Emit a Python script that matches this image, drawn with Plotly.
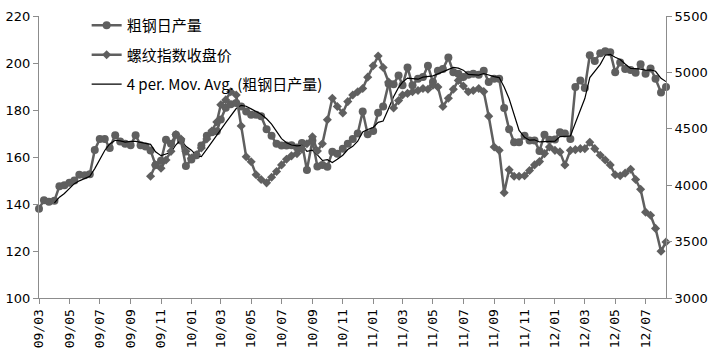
import plotly.graph_objects as go
import pandas as pd

# dekad dates (1st, 11th, 21st of each month) from 2009-03 to 2012-08
dates = [f"{2009 + (2 + k // 3) // 12}-{(2 + k // 3) % 12 + 1:02d}-{[1, 11, 21][k % 3]:02d}" for k in range(125)]

production = [
    138, 141.6, 141, 141.4, 147.6, 148, 149, 150, 152.4, 152.2,
    152.7, 163, 167.7, 167.7, 163.8, 169.3, 166.6, 165.6, 165, 169.3,
    165, 164.5, 162.8, 156.6, 158.4, 167.3, 165.6, 169.5, 167, 156.2,
    158.9, 160.7, 164.9, 169, 170.5, 171, 176, 181, 182.5, 183,
    181.5, 179.4, 178, 178, 177.3, 171.8, 169, 165.6, 164.9, 164.9,
    165, 164, 166, 154.5, 167, 156, 156.6, 155.9, 162.2, 161.4,
    163.5, 165.6, 167.7, 170, 179.4, 169.7, 171.1, 178.8, 181.5, 191.2,
    191, 194.7, 190.5, 198.1, 190.5, 193.3, 194, 198.8, 191.9, 196.7,
    197.4, 202.3, 196.1, 195.4, 194, 195, 195.4, 195, 196.7, 191.9,
    193.3, 193.3, 180.8, 171.8, 166.3, 166.3, 169, 167, 167, 162.6,
    169.5, 167.3, 167.5, 170.5, 170, 167.7, 189.8, 192.6, 189.4, 203.3,
    200.9, 204.1, 205, 204.6, 196.1, 200.2, 197.4, 197, 195.8, 199.5,
    195.4, 197.7, 193.3, 187.5, 189.8,
]

rebar = [None] * 22 + [
    4080, 4180, 4150, 4223, 4300, 4450, 4410, 4300, 4240, 4270,
    4330, 4410, 4480, 4560, 4713, 4756, 4828, 4800, 4525, 4252,
    4208, 4093, 4050, 4021, 4070, 4122, 4180, 4230, 4260, 4280,
    4320, 4367, 4430, 4303, 4367, 4580, 4771, 4698, 4641, 4741,
    4800, 4828, 4857, 4958, 5059, 5145, 5044, 4914, 4684, 4750,
    4799, 4814, 4828, 4840, 4857, 4850, 4886, 4870, 4698, 4771,
    4850, 4929, 4880, 4828, 4840, 4857, 4830, 4612, 4338, 4309,
    3934, 4136, 4079, 4080, 4084, 4130, 4180, 4209, 4280, 4338,
    4309, 4295, 4180, 4309, 4315, 4324, 4324, 4381, 4324, 4266,
    4223, 4180, 4093, 4084, 4107, 4142, 4050, 3963, 3761, 3733,
    3617, 3415, 3496,
]

names = ["粗钢日产量", "螺纹指数收盘价", "4 per. Mov. Avg. (粗钢日产量)"]

# 4-period moving average trendline of production (as Excel computes it)
ma4 = pd.Series(production).rolling(4).mean().tolist()
ma4 = [None if pd.isna(v) else v for v in ma4]

GRAY = "#5f5f5f"
AXIS = "#8c8c8c"

fig = go.Figure()
fig.add_trace(go.Scatter(
    x=dates, y=production, name=names[0], mode="lines+markers",
    line=dict(color=GRAY, width=2.5), marker=dict(symbol="circle", size=8, color=GRAY),
    cliponaxis=False, legendgroup="a",
))
fig.add_trace(go.Scatter(
    x=dates, y=rebar, name=names[1], mode="lines+markers", yaxis="y2",
    line=dict(color=GRAY, width=2.5), marker=dict(symbol="diamond", size=7, color=GRAY),
    cliponaxis=False, legendgroup="b",
))
fig.add_trace(go.Scatter(
    x=dates, y=ma4, name=names[2], mode="lines",
    line=dict(color="#000000", width=1.2), legendgroup="c",
))

fig.update_layout(
    width=713, height=348,
    margin=dict(l=39, r=47, t=9, b=50),
    paper_bgcolor="white", plot_bgcolor="white",
    font=dict(family="DejaVu Sans, Noto Sans CJK SC", size=13, color="#000000"),
    showlegend=True,
    legend=dict(
        x=0.076, y=1.025, xanchor="left", yanchor="top",
        bgcolor="rgba(0,0,0,0)", tracegroupgap=7,
        font=dict(family="Noto Sans CJK SC", size=15, color="#000000"),
        traceorder="grouped",
    ),
    xaxis=dict(
        type="date", range=["2009-03-01", "2012-08-11"], automargin=False,
        tick0="2009-03-01", dtick="M2", tickformat="%y/%m",
        tickangle=-90, ticks="outside", ticklen=5, tickcolor=AXIS,
        showline=True, linecolor=AXIS, linewidth=1, showgrid=False, zeroline=False,
        tickfont=dict(family="DejaVu Sans Mono", size=13),
    ),
    yaxis=dict(
        range=[100, 220], dtick=20, ticks="outside", ticklen=5, tickcolor=AXIS,
        automargin=False,
        showline=True, linecolor=AXIS, linewidth=1, showgrid=False, zeroline=False,
        tickfont=dict(size=13),
    ),
    yaxis2=dict(
        range=[3000, 5500], dtick=500, overlaying="y", side="right",
        automargin=False,
        ticks="outside", ticklen=5, tickcolor=AXIS,
        showline=True, linecolor=AXIS, linewidth=1, showgrid=False, zeroline=False,
        tickfont=dict(size=13),
    ),
)

fig.write_html("out.html")
